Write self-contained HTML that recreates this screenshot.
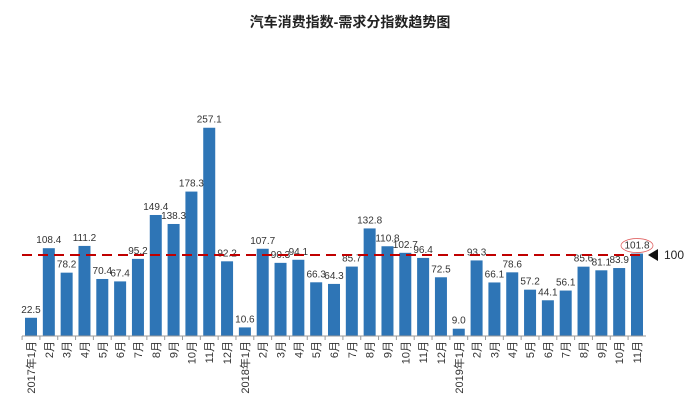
<!DOCTYPE html>
<html><head><meta charset="utf-8"><style>
body{margin:0;background:#fff;}
svg{display:block;font-family:"Liberation Sans","Noto Sans CJK SC",sans-serif;}
</style></head><body>
<svg id="chart" width="700" height="408" viewBox="0 0 700 408">
<text x="350" y="27" text-anchor="middle" font-size="14" font-weight="bold" fill="#222">汽车消费指数-需求分指数趋势图</text>
<g id="bars"></g><g id="labels"></g><g id="xticks"></g>
</svg>
<script>
const categories=["2017年1月","2月","3月","4月","5月","6月","7月","8月","9月","10月","11月","12月","2018年1月","2月","3月","4月","5月","6月","7月","8月","9月","10月","11月","12月","2019年1月","2月","3月","4月","5月","6月","7月","8月","9月","10月","11月"];
const values=[22.5,108.4,78.2,111.2,70.4,67.4,95.2,149.4,138.3,178.3,257.1,92.2,10.6,107.7,90.3,94.1,66.3,64.3,85.7,132.8,110.8,102.7,96.4,72.5,9.0,93.3,66.1,78.6,57.2,44.1,56.1,85.6,81.1,83.9,101.8];
const refValue=[100];
const NS="http://www.w3.org/2000/svg";
const base=336,k=0.81,x0=31,step=(637-31)/34,bw=12;
const xs=i=>x0+i*step, ys=v=>base-v*k;
const svg=document.getElementById('chart');
function mk(t,a,p){const e=document.createElementNS(NS,t);for(const n in a)e.setAttribute(n,a[n]);(p||svg).appendChild(e);return e;}
const axis=mk('line',{x1:22,x2:646,y1:base,y2:base,stroke:'#999','stroke-width':1});


values.forEach((v,i)=>{
  const r=mk('rect',{x:xs(i)-bw/2,y:ys(v),width:bw,height:v*k,fill:'#2e75b6'},document.getElementById('bars'));
  
  
  const t=mk('text',{x:xs(i),y:ys(v)-5,'text-anchor':'middle','font-size':10,fill:'#333'},document.getElementById('labels'));
  t.textContent=v.toFixed(1);
  
  
  const tk=mk('line',{x1:xs(i)-step/2,x2:xs(i)-step/2,y1:base,y2:base+4,stroke:'#999'},document.getElementById('xticks'));
  
  
  const lx=xs(i)+4,ly=base+5;
  const c=mk('text',{x:lx,y:ly,'text-anchor':'end','font-size':11,fill:'#333',transform:`rotate(-90 ${lx} ${ly})`});
  c.textContent=categories[i];
  
  
});
const ry=ys(refValue[0]);
const rl=mk('line',{x1:22,x2:646,y1:ry,y2:ry,stroke:'#c00000','stroke-width':2,'stroke-dasharray':'10,6'});


const ar=mk('polygon',{points:`648,${ry} 658,${ry-6} 658,${ry+6}`,fill:'#111'});


const rt=mk('text',{x:664,y:ry+4,'font-size':12,fill:'#222'});
rt.textContent=String(refValue[0]);


const last=values.length-1;
const el=mk('ellipse',{cx:xs(last),cy:ys(values[last])-8,rx:16,ry:7,fill:'none',stroke:'#e06060','stroke-width':0.8});


</script>
</body></html>
